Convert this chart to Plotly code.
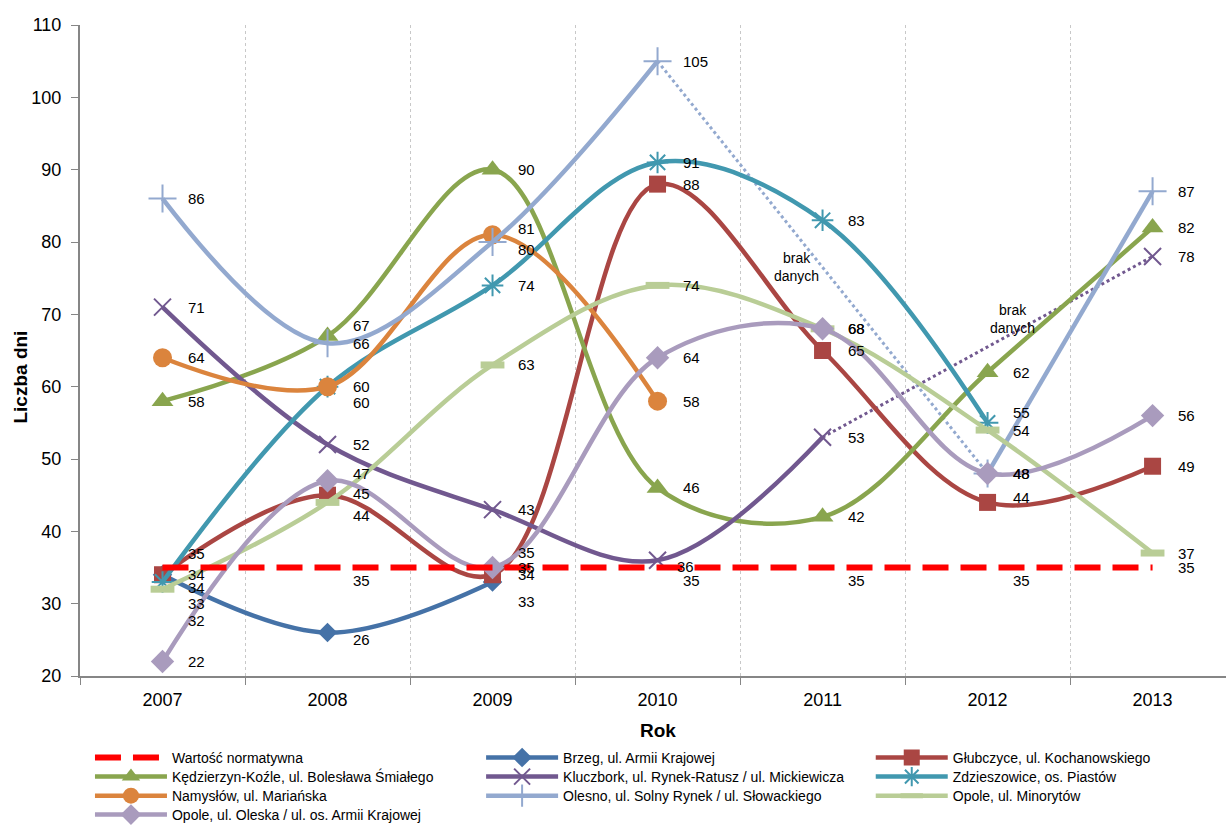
import plotly.graph_objects as go

# ---------------- data ----------------
years = [2007, 2008, 2009, 2010, 2011, 2012, 2013]
tick_labels = ["2007", "2008", "2009", "2010", "2011", "2012", "2013"]

normatywna = [35, 35, 35, 35, 35, 35, 35]
brzeg = [34, 26, 33, None, None, None, None]
glubczyce = [34, 45, 34, 88, 65, 44, 49]
kedzierzyn = [58, 67, 90, 46, 42, 62, 82]
kluczbork = [71, 52, 43, 36, 53, None, 78]
zdzieszowice = [33, 60, 74, 91, 83, 55, None]
namyslow = [64, 60, 81, 58, None, None, None]
olesno = [86, 66, 80, 105, None, 48, 87]
minorytow = [32, 44, 63, 74, 68, 54, 37]
oleska = [22, 47, 35, 64, 68, 48, 56]

names = {
    "norm": "Wartość normatywna",
    "brzeg": "Brzeg, ul. Armii Krajowej",
    "glub": "Głubczyce, ul. Kochanowskiego",
    "kk": "Kędzierzyn-Koźle, ul. Bolesława Śmiałego",
    "klucz": "Kluczbork, ul. Rynek-Ratusz / ul. Mickiewicza",
    "zdz": "Zdzieszowice, os. Piastów",
    "nam": "Namysłów, ul. Mariańska",
    "oles": "Olesno, ul. Solny Rynek / ul. Słowackiego",
    "min": "Opole, ul. Minorytów",
    "olk": "Opole, ul. Oleska / ul. os. Armii Krajowej",
}
values = {
    "norm": normatywna, "brzeg": brzeg, "glub": glubczyce, "kk": kedzierzyn,
    "klucz": kluczbork, "zdz": zdzieszowice, "nam": namyslow, "oles": olesno,
    "min": minorytow, "olk": oleska,
}

# legend order (row-major, three columns)
legend_order = ["norm", "brzeg", "glub", "kk", "klucz", "zdz", "nam", "oles", "min", "olk"]

# ---------------- styles ----------------
FONT = "Liberation Sans, Arial, sans-serif"

style = {
    "brzeg": dict(color="#4572A7", symbol="diamond", size=15, lw=0),
    "glub": dict(color="#AA4643", symbol="square", size=17, lw=0),
    "kk": dict(color="#89A54E", symbol="triangle-up", size=19, lw=0),
    "klucz": dict(color="#71588F", symbol="x-thin-open", size=17, lw=2),
    "zdz": dict(color="#4198AF", symbol="asterisk-open", size=18, lw=2),
    "nam": dict(color="#DB843D", symbol="circle", size=19, lw=0),
    "oles": dict(color="#93A9CF", symbol="cross-thin-open", size=20, lw=2),
    "min": dict(color="#B9CD96", symbol="line-ew-open", size=17, lw=7),
    "olk": dict(color="#A99BBD", symbol="diamond", size=18, lw=0),
}
gap_series = ["oles", "klucz"]

col_x = [0.0087, 0.350, 0.690]
row_y = [-0.1014, -0.1306, -0.1598, -0.1889]


def legend_id(key):
    i = legend_order.index(key)
    return "legend" if i == 0 else "legend%d" % (i + 1)


# label nudges (pixels, positive = down) where labels were moved in the original
nudge = {
    ("norm", 2007): -14, ("brzeg", 2007): 13, ("zdz", 2007): 22, ("min", 2007): 31,
    ("kk", 2008): -11, ("zdz", 2008): 16, ("olk", 2008): -7, ("glub", 2008): -2,
    ("min", 2008): 13, ("norm", 2008): 13, ("brzeg", 2008): 7,
    ("nam", 2009): -6, ("oles", 2009): 7, ("olk", 2009): -15, ("brzeg", 2009): 20,
    ("klucz", 2010): 6, ("norm", 2010): 13,
    ("norm", 2011): 13,
    ("zdz", 2012): -10, ("glub", 2012): -5, ("norm", 2012): 13,
}
xnudge = {("klucz", 2010): -6}

fig = go.Figure()

# dotted connections across missing years (between the data points around each gap)
for key in gap_series:
    vals = values[key]
    for i, v in enumerate(vals):
        if v is None and 0 < i < len(vals) - 1 and vals[i - 1] is not None and vals[i + 1] is not None:
            fig.add_trace(go.Scatter(
                x=[years[i - 1], years[i + 1]], y=[vals[i - 1], vals[i + 1]],
                mode="lines", showlegend=False, hoverinfo="skip",
                line=dict(color=style[key]["color"], width=3, dash="dot"),
            ))

for key in ["brzeg", "glub", "kk", "klucz", "zdz", "nam", "oles", "min", "olk"]:
    s = style[key]
    fig.add_trace(go.Scatter(
        x=years, y=values[key], name=names[key], mode="lines+markers",
        legend=legend_id(key),
        line=dict(color=s["color"], width=4.5, shape="spline", smoothing=1.0),
        marker=dict(symbol=s["symbol"], size=s["size"], color=s["color"],
                    line=dict(color=s["color"], width=s["lw"])),
        connectgaps=False,
    ))

fig.add_trace(go.Scatter(
    x=years, y=normatywna, name=names["norm"], mode="lines",
    legend=legend_id("norm"),
    line=dict(color="#FF0000", width=6, dash="26px,12px"),
))

# data labels
ann = []
for key in legend_order:
    for x, v in zip(years, values[key]):
        if v is None:
            continue
        ann.append(dict(
            x=x, y=v, text=str(v), showarrow=False, xanchor="left", yanchor="middle",
            xshift=23 + xnudge.get((key, x), 0), yshift=-nudge.get((key, x), 0),
            font=dict(family=FONT, size=15, color="#000000"),
        ))

ann.append(dict(x=2010.84, y=76.5, text="brak<br>danych", showarrow=False,
                font=dict(family=FONT, size=14, color="#000000")))
ann.append(dict(x=2012.15, y=69.3, text="brak<br>danych", showarrow=False,
                font=dict(family=FONT, size=14, color="#000000")))

# axis titles
ann.append(dict(xref="paper", yref="paper", x=-0.0515, y=0.46, text="<b>Liczba dni</b>",
                textangle=-90, showarrow=False, xanchor="center", yanchor="middle",
                font=dict(family=FONT, size=19, color="#000000")))
ann.append(dict(xref="x", yref="paper", x=2010, y=-0.083, text="<b>Rok</b>",
                showarrow=False, xanchor="center", yanchor="middle",
                font=dict(family=FONT, size=19, color="#000000")))

legends = {}
for i, key in enumerate(legend_order):
    legends[legend_id(key)] = dict(
        orientation="v", yanchor="top", xanchor="left",
        x=col_x[i % 3], y=row_y[i // 3],
        font=dict(family=FONT, size=14, color="#000000"),
        bgcolor="rgba(0,0,0,0)", tracegroupgap=0, itemwidth=72,
    )

fig.update_layout(
    width=1226, height=825,
    margin=dict(l=80, r=0, t=25, b=149, autoexpand=False),
    paper_bgcolor="white", plot_bgcolor="white",
    annotations=ann,
    xaxis=dict(
        range=[2006.5, 2013.445], tickmode="array", tickvals=years, ticktext=tick_labels,
        showgrid=False, zeroline=False, showline=True, linecolor="#868686", linewidth=2,
        ticks="", ticklabelstandoff=6, tickfont=dict(family=FONT, size=18, color="#000000"),
        automargin=False,
        minor=dict(tickmode="array", tickvals=[2006.5, 2007.5, 2008.5, 2009.5, 2010.5, 2011.5, 2012.5],
                   ticks="outside", ticklen=7, tickcolor="#868686", tickwidth=1,
                   showgrid=True, gridcolor="#C8C8C8", griddash="3px,3px", gridwidth=1),
    ),
    yaxis=dict(
        range=[20, 110], tickmode="linear", tick0=20, dtick=10,
        showgrid=False, zeroline=False, showline=True, linecolor="#868686", linewidth=2,
        ticks="outside", ticklen=7, tickcolor="#868686", ticklabelstandoff=6,
        tickfont=dict(family=FONT, size=18, color="#000000"), automargin=False,
    ),
    **legends,
)

fig.write_html("out.html", config={"displayModeBar": False},
               post_script="document.body.style.margin='0';document.body.style.overflow='hidden';")
